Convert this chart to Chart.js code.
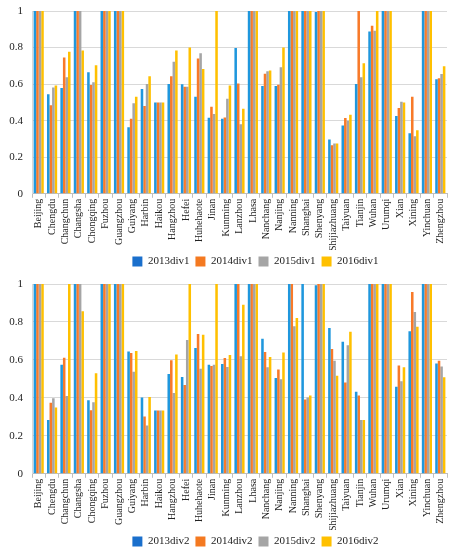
<!DOCTYPE html>
<html>
<head>
<meta charset="utf-8">
<script src="https://cdn.jsdelivr.net/npm/chart.js@4.4.0/dist/chart.umd.min.js"></script>
<style>
html,body{margin:0;padding:0;background:#fff;overflow:hidden;width:454px;height:550px;}
#c1wrap{position:absolute;left:0;top:0;width:454px;height:277px;}
#c2wrap{position:absolute;left:0;top:272px;width:454px;height:285px;}
</style>
</head>
<body>
<div id="c1wrap"><canvas id="c1"></canvas></div>
<div id="c2wrap"><canvas id="c2"></canvas></div>
<script>
const cities = ["Beijing","Chengdu","Changchun","Changsha","Chongqing","Fuzhou","Guangzhou","Guiyang","Harbin","Haikou","Hangzhou","Hefei","Huhehaote","Jinan","Kunming","Lanzhou","Lhasa","Nanchang","Nanjing","Nanning","Shanghai","Shenyang","Shijiazhuang","Taiyuan","Tianjin","Wuhan","Urumqi","Xian","Xining","Yinchuan","Zhengzhou"];
const yTicks = [0, 0.2, 0.4, 0.6, 0.8, 1];

const d2013div1 = [1,0.544,0.579,1,0.665,1,1,0.364,0.573,0.5,0.601,0.599,0.531,0.416,0.41,0.797,1,0.59,0.59,1,1,0.995,0.297,0.374,0.601,0.888,1,0.425,0.331,1,0.626];
const d2014div1 = [1,0.485,0.745,1,0.595,1,1,0.41,0.48,0.5,0.643,0.586,0.74,0.476,0.418,0.604,1,0.657,0.597,1,1,1,0.266,0.414,1,0.919,1,0.469,0.531,1,0.632];
const d2015div1 = [1,0.582,0.637,1,0.61,1,1,0.496,0.6,0.5,0.723,0.586,0.769,0.436,0.52,0.381,1,0.67,0.692,1,1,1,0.275,0.4,0.637,0.892,1,0.504,0.315,1,0.656];
const d2016div1 = [1,0.592,0.777,0.784,0.703,1,1,0.531,0.643,0.5,0.784,0.8,0.683,1,0.592,0.465,1,0.674,0.8,1,1,1,0.275,0.432,0.714,1,1,0.5,0.348,1,0.698];

const d2013div2 = [1,0.284,0.574,1,0.388,1,1,0.644,0.402,0.333,0.526,0.51,0.663,0.575,0.579,1,1,0.712,0.505,1,1,0.993,0.768,0.696,0.432,1,1,0.458,0.751,1,0.581];
const d2014div2 = [1,0.374,0.612,1,0.335,1,1,0.637,0.302,0.333,0.598,0.468,0.737,0.568,0.61,1,1,0.642,0.549,1,0.391,1,0.658,0.481,0.412,1,1,0.57,0.958,1,0.596];
const d2015div2 = [1,0.398,0.41,1,0.377,1,1,0.537,0.254,0.333,0.426,0.705,0.554,0.574,0.563,0.619,1,0.561,0.498,0.777,0.402,1,0.596,0.677,0.284,1,1,0.488,0.853,1,0.565];
const d2016div2 = [1,0.349,1,0.856,0.53,1,1,0.647,0.405,0.333,0.628,1,0.732,1,0.626,0.891,1,0.616,0.639,0.821,0.412,1,0.516,0.749,0.284,1,1,0.561,0.775,1,0.509];

const barColors = ['#1f97dd','#f87a29','#a5a5a5','#ffc000'];
const legendColors = ['#1a6fcc','#f47920','#a5a5a5','#ffc000'];
const FONT = "'Liberation Serif', 'Times New Roman', serif";

// shift the legend block to the right, as in the reference
const legendShift = {
  id: 'legendShift',
  afterLayout(chart) {
    const l = chart.legend;
    if (l) { l.left += 32; l.right += 32; }
  }
};

function makeChart(id, labels, series, names, padTop){
  const datasets = series.map((d,i)=>({
    label: names[i], data: d, backgroundColor: barColors[i],
    borderWidth: 0, barPercentage: 1.0, categoryPercentage: 0.76
  }));
  return new Chart(document.getElementById(id), {
    type: 'bar',
    data: { labels: labels, datasets: datasets },
    plugins: [legendShift],
    options: {
      responsive: true, maintainAspectRatio: false, animation: false,
      layout: { padding: { left: 0, right: 7, top: padTop, bottom: 0 } },
      plugins: {
        tooltip: { enabled: false },
        legend: {
          position: 'bottom',
          labels: {
            font: { family: FONT, size: 11 }, color: '#222',
            boxWidth: 10, boxHeight: 10, padding: 6,
            generateLabels: (chart) => chart.data.datasets.map((ds,i)=>({
              text: ds.label, fillStyle: legendColors[i], strokeStyle: legendColors[i],
              lineWidth: 0, datasetIndex: i, fontColor: '#222'
            }))
          }
        }
      },
      scales: {
        x: {
          afterFit: (s) => { s.height -= 2; },
          grid: { display: true, drawOnChartArea: false, drawTicks: true, tickLength: 4, color: '#bfbfbf', offset: true },
          border: { display: true, color: '#bfbfbf' },
          ticks: { autoSkip: false, minRotation: 90, maxRotation: 90, padding: 1,
                   font: { family: FONT, size: 10 }, color: '#222' }
        },
        y: {
          min: 0, max: 1,
          afterBuildTicks: (s) => { s.ticks = yTicks.map(v=>({value:v})); },
          afterFit: (s) => { s.width = 32; s.paddingTop = 0; },
          grid: { color: '#d9d9d9', drawTicks: false },
          border: { display: true, color: '#d9d9d9' },
          ticks: { padding: 9, font: { family: FONT, size: 11 }, color: '#222',
                   callback: (v) => String(v) }
        }
      }
    }
  });
}

makeChart('c1', cities, [d2013div1,d2014div1,d2015div1,d2016div1], ['2013div1','2014div1','2015div1','2016div1'], 11);
makeChart('c2', cities, [d2013div2,d2014div2,d2015div2,d2016div2], ['2013div2','2014div2','2015div2','2016div2'], 12);
</script>
</body>
</html>
